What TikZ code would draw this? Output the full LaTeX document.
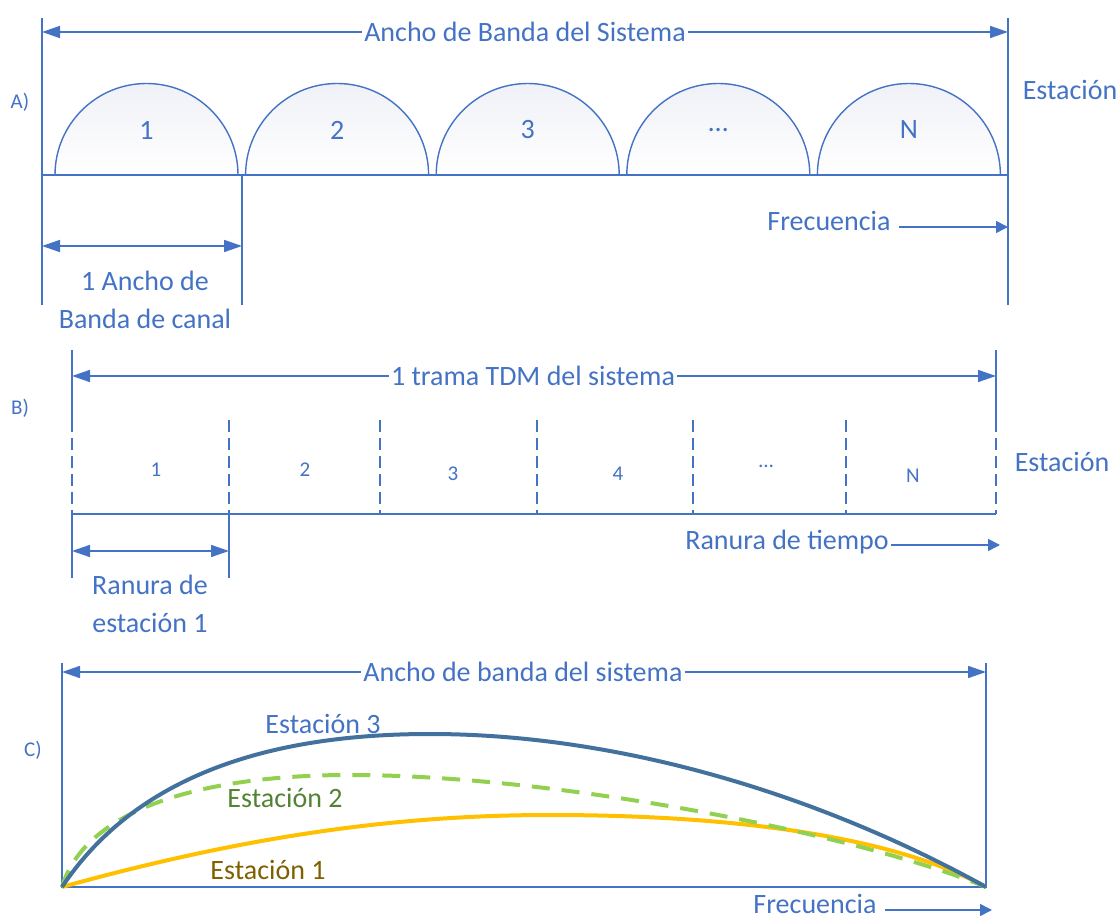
\documentclass[tikz,border=0pt]{standalone}
\usepackage{fontspec}
\setmainfont{Carlito}
\usetikzlibrary{arrows.meta}
\definecolor{lineblue}{HTML}{4472C4}
\definecolor{steel}{HTML}{41719C}
\definecolor{lgreen}{HTML}{92D050}
\definecolor{dgreen}{HTML}{548235}
\definecolor{amber}{HTML}{FFC000}
\definecolor{brown}{HTML}{7F6000}
\definecolor{lobefill}{HTML}{F0F1F7}
\tikzset{
  txt/.style={text=lineblue, inner sep=1pt, font=\fontsize{14}{19}\selectfont},
  small/.style={text=lineblue, inner sep=1pt, font=\fontsize{10.5}{12}\selectfont},
  rule/.style={draw=lineblue, line width=1pt},
  dimarrow/.style={draw=lineblue, line width=0.8pt, -{Triangle[length=9pt,width=6pt]}},
  twoarrow/.style={draw=lineblue, line width=0.8pt, {Triangle[length=9pt,width=6pt]}-{Triangle[length=9pt,width=6pt]}},
  axisarrow/.style={draw=lineblue, line width=0.8pt, -{Triangle[length=6pt,width=6pt]}},
  slotdash/.style={draw=lineblue, line width=0.8pt, dash pattern=on 6pt off 3pt},
  lobe/.style={draw=lineblue, line width=0.7pt, top color=lobefill, bottom color=white}
}
\begin{document}
\begin{tikzpicture}[x=0.5pt,y=-0.5pt]
  %%%%% START %%%%%
  \useasboundingbox (0,0) rectangle (1120,919);

  %% A) FDMA
  \coordinate (aL) at (42,18);
  \coordinate (aR) at (1008,18);
  \coordinate (aBL) at (42,175);
  \coordinate (aBR) at (1008,175);
  \coordinate (aC) at (242,175);
  \draw[rule] (aL) -- (42,305);
  \draw[rule] (aR) -- (1008,305);
  \draw[rule] (aC) -- (242,305);

  \foreach \n/\lab in {1/1,2/2,3/3,4/\textellipsis,5/N}{
    \draw[lobe] ({146.5+(\n-1)*190.6-91.5},175) arc (180:360:91.5);
    \node[txt] (lobe\n) at ({146.5+(\n-1)*190.6},130) {\lab};
  }
  \draw[rule] (aBL) -- (aBR);

  \node[txt] (bwA) at (525,32) {Ancho de Banda del Sistema};
  \draw[dimarrow] (bwA.west) -- (bwA.west -| aL);
  \draw[dimarrow] (bwA.east) -- (bwA.east -| aR);

  \node[small] (labA) at (20,102) {A)};
  \node[txt] (estA) at (1070,90) {Estación};

  \node[txt] (freqA) at (829,221) {Frecuencia};
  \coordinate (freqAend) at (1008,227);
  \draw[axisarrow] ([xshift=3pt]freqA.east |- freqAend) -- (freqAend);

  \coordinate (chA) at (42,246);
  \draw[twoarrow] (chA) -- (chA -| aC);
  \node[txt, align=center] (chAlab) at (145,300) {1 Ancho de\\Banda de canal};

  %% B) TDMA
  \coordinate (bL) at (72,350);
  \coordinate (bR) at (996,350);
  \draw[rule] (bL) -- (72,422);
  \draw[rule] (bR) -- (996,422);
  \foreach \x in {72,229,380,537,693,846,996}
    \draw[slotdash] (\x,420) -- (\x,514);
  \draw[rule] (72,514) -- (72,578);
  \draw[rule] (229,514) -- (229,578);
  \draw[rule] (72,514) -- (996,514);

  \node[txt] (frameB) at (533,376) {1 trama TDM del sistema};
  \draw[dimarrow] (frameB.west) -- (frameB.west -| bL);
  \draw[dimarrow] (frameB.east) -- (frameB.east -| bR);

  \node[small] (slot1) at (156,470) {1};
  \node[small] (slot2) at (305,470) {2};
  \node[small] (slot3) at (453,474) {3};
  \node[small] (slot4) at (618,474) {4};
  \node[small] (slot5) at (766,466) {\textellipsis};
  \node[small] (slot6) at (913,476) {N};

  \node[small] (labB) at (20,408) {B)};
  \node[txt] (estB) at (1062,462) {Estación};

  \node[txt] (timeB) at (787,542) {Ranura de tiempo};
  \coordinate (timeBend) at (1000,545);
  \draw[axisarrow] (timeB.east |- timeBend) -- (timeBend);

  \coordinate (slB) at (72,551);
  \draw[twoarrow] (slB) -- (229,551);
  \node[txt, align=center] (slBlab) at (150,604) {Ranura de\\estación 1};

  %% C) CDMA
  \coordinate (cL) at (62,663);
  \coordinate (cR) at (986,663);
  \coordinate (c0) at (62,887);
  \coordinate (c1) at (986,887);
  \draw[rule] (cL) -- (c0) -- (c1) -- (cR);

  \node[txt] (bwC) at (523,672) {Ancho de banda del sistema};
  \draw[dimarrow] (bwC.west) -- (bwC.west -| cL);
  \draw[dimarrow] (bwC.east) -- (bwC.east -| cR);

  \node[small] (labC) at (33,750) {C)};

  \draw[amber, line width=2pt] (c0) .. controls (250,835) and (400,815) .. (550,815)
        .. controls (750,815) and (900,840) .. (c1);
  \draw[lgreen, line width=2pt, dash pattern=on 9pt off 6pt] (c0) .. controls (85,810) and (200,775) .. (350,775)
        .. controls (560,775) and (860,835) .. (c1);
  \draw[steel, line width=2pt] (c0) .. controls (140,770) and (280,734) .. (430,734)
        .. controls (620,734) and (820,795) .. (c1);

  \node[txt, text=lineblue] (st3) at (323,724) {Estación 3};
  \node[txt, text=dgreen] (st2) at (285,798) {Estación 2};
  \node[txt, text=brown] (st1) at (268,870) {Estación 1};

  \node[txt] (freqC) at (815,904) {Frecuencia};
  \coordinate (freqCend) at (992,910);
  \draw[axisarrow] ([xshift=3pt]freqC.east |- freqCend) -- (freqCend);
  %%%%% END %%%%%
\end{tikzpicture}
\end{document}
